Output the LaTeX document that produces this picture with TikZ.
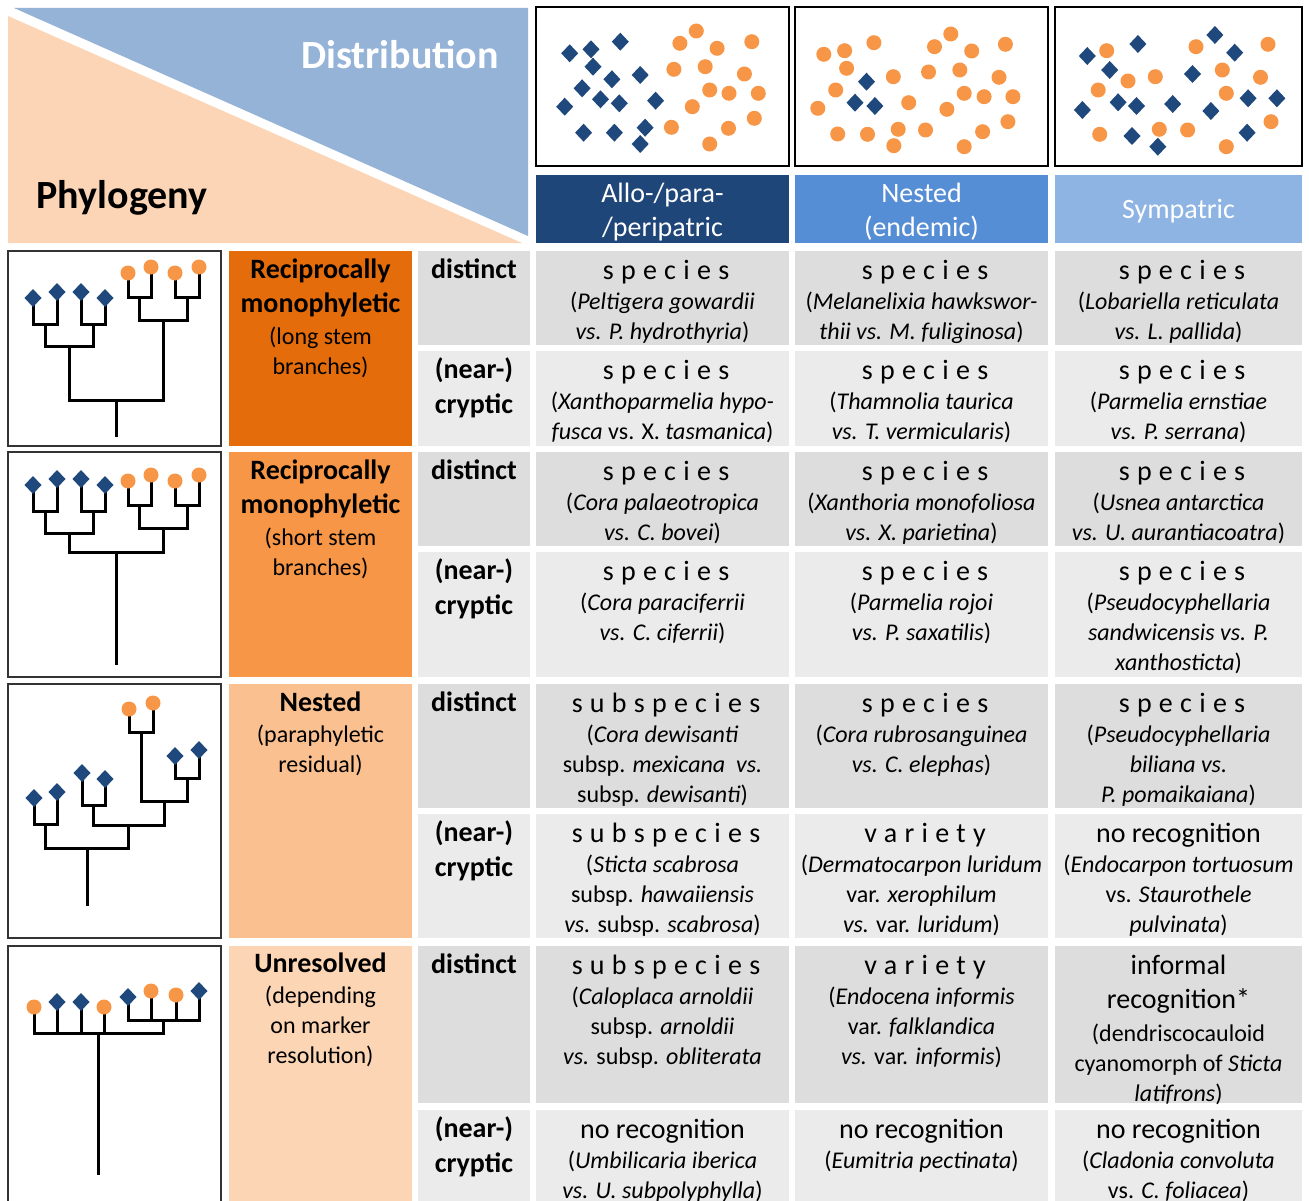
\documentclass[tikz,border=0pt]{standalone}
\usepackage{fontspec}
\setmainfont{Carlito}
\definecolor{dblue}{HTML}{1F497D}
\definecolor{orng}{HTML}{F79646}
\definecolor{hA}{HTML}{1F4679}
\definecolor{hB}{HTML}{558ED5}
\definecolor{hC}{HTML}{8EB4E3}
\definecolor{triblue}{HTML}{95B3D7}
\definecolor{peach}{HTML}{FBD5B5}
\definecolor{gA}{HTML}{E46C0A}
\definecolor{gB}{HTML}{F79646}
\definecolor{gC}{HTML}{FAC090}
\definecolor{gD}{HTML}{FCD5B5}
\definecolor{gd}{HTML}{DDDDDD}
\definecolor{gc}{HTML}{EBEBEB}
\newcommand\st{\rule{0pt}{21pt}}
\newcommand\lst{\rule{0pt}{24pt}}
\newcommand\spc[1]{{\fontsize{28}{30}\selectfont\addfontfeature{LetterSpace=26}#1\kern-7pt}}
\newcommand\hd[1]{{\fontsize{28}{30}\selectfont #1}}
\newcommand\Dia[1]{\fill[dblue,shift={(#1)}] (-8.5,0) -- (0,-9) -- (8.5,0) -- (0,9) -- cycle;}
\newcommand\Cir[1]{\fill[orng] (#1) circle[radius=7.5];}
\tikzset{
  dtext/.style={anchor=north, align=center, inner sep=0pt, font=\fontsize{24}{30}\selectfont},
  lab/.style={anchor=north, align=center, inner sep=0pt, font=\bfseries\fontsize{28}{35}\selectfont},
  glab/.style={anchor=north, align=center, inner sep=0pt, font=\bfseries\fontsize{28}{34}\selectfont},
  gsub/.style={anchor=north, align=center, inner sep=0pt, font=\fontsize{24}{30}\selectfont},
  htext/.style={align=center, inner sep=0pt, text=white, font=\fontsize{28}{34}\selectfont},
  tree/.style={line width=3pt, black, line join=miter},
  tbox/.style={draw=black!80, line width=1.8pt},
  dbox/.style={draw=black, line width=2pt}
}
\begin{document}
\begin{tikzpicture}[x=1pt,y=-1pt]
\useasboundingbox (0,0) rectangle (1309,1201);
\clip (0,0) rectangle (1309,1201);
\fill[white] (0,0) rectangle (1309,1201);
% header triangles
\fill[triblue] (14,8) -- (528,8) -- (528,236) -- cycle;
\fill[peach] (8,16) -- (522,243) -- (8,243) -- cycle;
\node[inner sep=0pt, text=white, font=\bfseries\fontsize{40}{44}\selectfont] (distr) at (400,55) {Distribution};
\node[inner sep=0pt, font=\bfseries\fontsize{40}{44}\selectfont] (phylo) at (122,198) {Phylogeny};
% distribution boxes
\draw[dbox] (536,7) rectangle (789,166);
\draw[dbox] (795,7) rectangle (1048,166);
\draw[dbox] (1055,7) rectangle (1302,166);
% box 1
\Dia{569.7,53.3}\Dia{591,49.3}\Dia{620.3,41.7}\Dia{593,66.7}\Dia{611.9,79.3}
\Dia{640.2,75}\Dia{582.1,88.3}\Dia{600.5,99.3}\Dia{619.3,103.3}\Dia{655.6,100.7}
\Dia{564.7,106.7}\Dia{583.6,132.7}\Dia{614.4,132.7}\Dia{645.1,127.7}\Dia{640.2,144}
\Cir{696.3,31}\Cir{679.9,43.3}\Cir{717.1,48.3}\Cir{751.8,41.7}\Cir{673.9,69.3}
\Cir{705.2,66.7}\Cir{744.4,74}\Cir{709.7,90}\Cir{729,93.3}\Cir{758.3,93.3}
\Cir{692.3,106.7}\Cir{754.3,118.3}\Cir{671.4,127.3}\Cir{728.5,128.3}\Cir{709.7,144}
% box 2
\Cir{823.8,54.3}\Cir{844.6,50.7}\Cir{873.9,42.7}\Cir{950.8,34}\Cir{934.5,46.7}
\Cir{971.7,51}\Cir{1005.4,44.3}\Cir{846.6,68.3}\Cir{893.3,76.7}\Cir{928.5,72}
\Cir{959.8,70}\Cir{999,77.3}\Cir{835.7,90}\Cir{964.2,93.3}\Cir{984.1,96.7}
\Cir{1012.9,96.7}\Cir{817.8,108.3}\Cir{908.7,102.7}\Cir{946.9,109.3}\Cir{1007.9,121.7}
\Cir{837.7,134}\Cir{867.5,134.3}\Cir{898.2,129.3}\Cir{925.5,130}\Cir{982.6,131.7}
\Cir{893.8,145.7}\Cir{964.2,146.7}
\Dia{866.5,81.7}\Dia{855,102.7}\Dia{874.9,106}
% box 3
\Dia{1087.3,56}\Dia{1109.7,70}\Dia{1137.9,44}\Dia{1214.9,35}\Dia{1234.7,52.7}
\Dia{1192.5,74}\Dia{1118.1,102.3}\Dia{1136.5,106}\Dia{1172.7,104}\Dia{1210.9,111}
\Dia{1248.1,98.3}\Dia{1276.9,98.3}\Dia{1082.4,110}\Dia{1132,136}\Dia{1157.8,146.7}
\Dia{1247.1,132.7}
\Cir{1106.7,50.7}\Cir{1128,81}\Cir{1155.3,76.7}\Cir{1098.2,90}\Cir{1196,46.7}
\Cir{1222.3,70}\Cir{1268,44.3}\Cir{1260.5,77.3}\Cir{1226.3,93.3}\Cir{1159.3,129.3}
\Cir{1187.6,130}\Cir{1099.7,134.3}\Cir{1271,121.7}\Cir{1226.3,146.7}
% header cells
\fill[hA] (536,175) rectangle (789,243);
\fill[hB] (795,175) rectangle (1048,243);
\fill[hC] (1055,175) rectangle (1302,243);
\node[htext] (hda) at (662.5,212) {Allo-/para-\\/peripatric};
\node[htext] (hdb) at (921.5,212) {Nested\\(endemic)};
\node[htext] (hdc) at (1178.5,211) {Sympatric};
% tree boxes
\draw[tbox] (8,251) rectangle (221,446);
\draw[tbox] (8,452) rectangle (221,677);
\draw[tbox] (8,684) rectangle (221,938);
\draw[tbox] (8,946) rectangle (221,1220);
% group colour cells
\fill[gA] (229,251) rectangle (412,446);
\fill[gB] (229,452) rectangle (412,677);
\fill[gC] (229,684) rectangle (412,938);
\fill[gD] (229,946) rectangle (412,1220);
% grey cells
\foreach \ya/\yb/\c in {251/345/gd,351/446/gc,452/546/gd,552/677/gc,684/808/gd,814/938/gc,946/1103/gd,1110/1220/gc}{
  \fill[\c] (418,\ya) rectangle (530,\yb);
  \fill[\c] (536,\ya) rectangle (789,\yb);
  \fill[\c] (795,\ya) rectangle (1048,\yb);
  \fill[\c] (1055,\ya) rectangle (1302,\yb);
}
% tree 1
\draw[tree] (33,298) -- (33,324) -- (57,324) -- (57,292);
\draw[tree] (81,292) -- (81,324) -- (105,324) -- (105,298);
\draw[tree] (45,324) -- (45,346) -- (93,346) -- (93,324);
\draw[tree] (128,273) -- (128,297) -- (151,297) -- (151,267);
\draw[tree] (175,273) -- (175,297) -- (199,297) -- (199,267);
\draw[tree] (139.5,297) -- (139.5,320) -- (187,320) -- (187,297);
\draw[tree] (69,346) -- (69,400) -- (163,400) -- (163,320);
\draw[tree] (116,400) -- (116,437);
\Dia{33,298}\Dia{57,292}\Dia{81,292}\Dia{105,298}
\Cir{128,273}\Cir{151,267}\Cir{175,273}\Cir{199,267}
% tree 2
\draw[tree] (33,485) -- (33,511) -- (57,511) -- (57,479);
\draw[tree] (81,479) -- (81,511) -- (105,511) -- (105,485);
\draw[tree] (45,511) -- (45,533) -- (93,533) -- (93,511);
\draw[tree] (128,481) -- (128,505) -- (151,505) -- (151,475);
\draw[tree] (175,481) -- (175,505) -- (199,505) -- (199,475);
\draw[tree] (139.5,505) -- (139.5,528) -- (187,528) -- (187,505);
\draw[tree] (69,533) -- (69,552) -- (163,552) -- (163,528);
\draw[tree] (116,552) -- (116,665);
\Dia{33,485}\Dia{57,479}\Dia{81,479}\Dia{105,485}
\Cir{128,481}\Cir{151,475}\Cir{175,481}\Cir{199,475}
% tree 3
\draw[tree] (34,798) -- (34,824) -- (57,824) -- (57,792);
\draw[tree] (82,773) -- (82,805) -- (105,805) -- (105,779);
\draw[tree] (129,709) -- (129,732) -- (153,732) -- (153,703);
\draw[tree] (175,756) -- (175,778) -- (199,778) -- (199,750);
\draw[tree] (141,732) -- (141,801) -- (187,801) -- (187,778);
\draw[tree] (93.5,805) -- (93.5,825) -- (164,825) -- (164,801);
\draw[tree] (45.5,824) -- (45.5,848) -- (128.75,848) -- (128.75,825);
\draw[tree] (87,848) -- (87,906);
\Dia{34,798}\Dia{57,792}\Dia{82,773}\Dia{105,779}\Dia{175,756}\Dia{199,750}
\Cir{129,709}\Cir{153,703}
% tree 4
\draw[tree] (34,1007) -- (34,1033) -- (163.5,1033) -- (163.5,1020);
\draw[tree] (57,1002) -- (57,1033);
\draw[tree] (81,1002) -- (81,1033);
\draw[tree] (104,1007) -- (104,1033);
\draw[tree] (128,997) -- (128,1020) -- (199,1020) -- (199,991);
\draw[tree] (151,991) -- (151,1020);
\draw[tree] (176,995) -- (176,1020);
\draw[tree] (98,1033) -- (98,1175);
\Cir{34,1007}\Dia{57,1002}\Dia{81,1002}\Cir{104,1007}
\Dia{128,997}\Cir{151,991}\Cir{176,995}\Dia{199,991}
% group labels
\node[glab] (ga) at (320.5,254) {\lst Reciprocally\\monophyletic};
\node[gsub] (gas) at (320.5,323) {\st(long stem\\branches)};
\node[glab] (gb) at (320.5,455) {\lst Reciprocally\\monophyletic};
\node[gsub] (gbs) at (320.5,524) {\st(short stem\\branches)};
\node[glab] (gc) at (320.5,687) {\lst Nested};
\node[gsub] (gcs) at (320.5,721) {\st(paraphyletic\\residual)};
\node[glab] (gdn) at (320.5,948) {\lst Unresolved};
\node[gsub] (gds) at (320.5,982) {\st(depending\\on marker\\resolution)};
% row labels
\node[lab] (la) at (474,254) {\lst distinct};
\node[lab] (lb) at (474,354) {\lst (near-)\\cryptic};
\node[lab] (lc) at (474,455) {\lst distinct};
\node[lab] (ld) at (474,555) {\lst (near-)\\cryptic};
\node[lab] (le) at (474,687) {\lst distinct};
\node[lab] (lf) at (474,817) {\lst (near-)\\cryptic};
\node[lab] (lg) at (474,949) {\lst distinct};
\node[lab] (lh) at (474,1113) {\lst (near-)\\cryptic};
% row 1
\node[dtext] (a1) at (662.5,258) {\st\spc{species}\\(\textit{Peltigera gowardii}\\\textit{vs. P. hydrothyria})};
\node[dtext] (a2) at (921.5,258) {\st\spc{species}\\(\textit{Melanelixia hawkswor-}\\\textit{thii vs. M. fuliginosa})};
\node[dtext] (a3) at (1178.5,258) {\st\spc{species}\\(\textit{Lobariella reticulata}\\\textit{vs. L. pallida})};
\node[dtext] (b1) at (662.5,358) {\st\spc{species}\\(\textit{Xanthoparmelia hypo-}\\\textit{fusca} vs. X. \textit{tasmanica})};
\node[dtext] (b2) at (921.5,358) {\st\spc{species}\\(\textit{Thamnolia taurica}\\\textit{vs. T. vermicularis})};
\node[dtext] (b3) at (1178.5,358) {\st\spc{species}\\(\textit{Parmelia ernstiae}\\\textit{vs. P. serrana})};
% row 2
\node[dtext] (c1) at (662.5,459) {\st\spc{species}\\(\textit{Cora palaeotropica}\\\textit{vs. C. bovei})};
\node[dtext] (c2) at (921.5,459) {\st\spc{species}\\(\textit{Xanthoria monofoliosa}\\\textit{vs. X. parietina})};
\node[dtext] (c3) at (1178.5,459) {\st\spc{species}\\(\textit{Usnea antarctica}\\\textit{vs. U. aurantiacoatra})};
\node[dtext] (d1) at (662.5,559) {\st\spc{species}\\(\textit{Cora paraciferrii}\\\textit{vs. C. ciferrii})};
\node[dtext] (d2) at (921.5,559) {\st\spc{species}\\(\textit{Parmelia rojoi}\\\textit{vs. P. saxatilis})};
\node[dtext] (d3) at (1178.5,559) {\st\spc{species}\\(\textit{Pseudocyphellaria}\\\textit{sandwicensis vs. P.}\\\textit{xanthosticta})};
% row 3
\node[dtext] (e1) at (662.5,691) {\st\spc{subspecies}\\(\textit{Cora dewisanti}\\subsp. \textit{mexicana\ \ vs.}\\subsp. \textit{dewisanti})};
\node[dtext] (e2) at (921.5,691) {\st\spc{species}\\(\textit{Cora rubrosanguinea}\\\textit{vs. C. elephas})};
\node[dtext] (e3) at (1178.5,691) {\st\spc{species}\\(\textit{Pseudocyphellaria}\\\textit{biliana vs.}\\\textit{P. pomaikaiana})};
\node[dtext] (f1) at (662.5,821) {\st\spc{subspecies}\\(\textit{Sticta scabrosa}\\subsp. \textit{hawaiiensis}\\\textit{vs.} subsp. \textit{scabrosa})};
\node[dtext] (f2) at (921.5,821) {\st\spc{variety}\\(\textit{Dermatocarpon luridum}\\var. \textit{xerophilum}\\\textit{vs.} var. \textit{luridum})};
\node[dtext] (f3) at (1178.5,821) {\st\hd{no recognition}\\(\textit{Endocarpon tortuosum}\\vs. \textit{Staurothele}\\\textit{pulvinata})};
% row 4
\node[dtext] (g1) at (662.5,953) {\st\spc{subspecies}\\(\textit{Caloplaca arnoldii}\\subsp. \textit{arnoldii}\\\textit{vs.} subsp. \textit{obliterata}};
\node[dtext] (g2) at (921.5,953) {\st\spc{variety}\\(\textit{Endocena informis}\\var. \textit{falklandica}\\\textit{vs.} var. \textit{informis})};
\node[dtext] (g3) at (1178.5,953) {\st\hd{informal}\\[4pt]\hd{recognition*}\\[3pt](dendriscocauloid\\cyanomorph of \textit{Sticta}\\\textit{latifrons})};
\node[dtext] (h1) at (662.5,1117) {\st\hd{no recognition}\\(\textit{Umbilicaria iberica}\\\textit{vs. U. subpolyphylla})};
\node[dtext] (h2) at (921.5,1117) {\st\hd{no recognition}\\(\textit{Eumitria pectinata})};
\node[dtext] (h3) at (1178.5,1117) {\st\hd{no recognition}\\(\textit{Cladonia convoluta}\\vs. \textit{C. foliacea})};
\end{tikzpicture}
\end{document}
